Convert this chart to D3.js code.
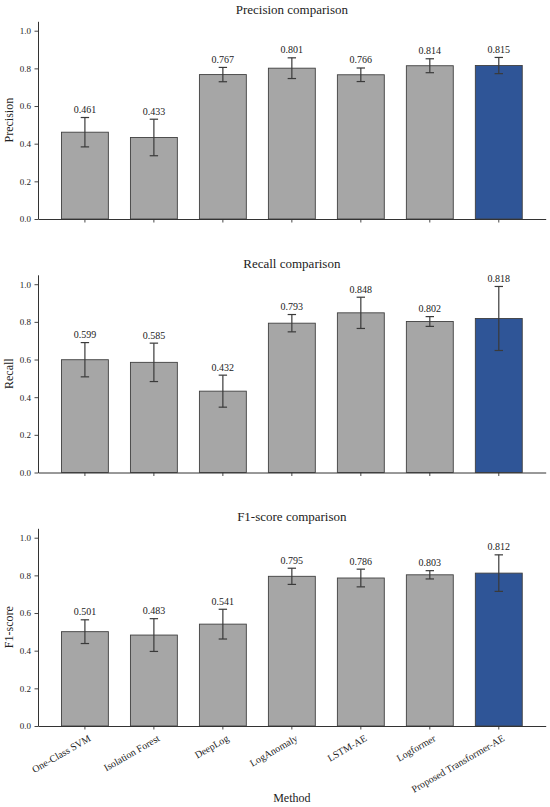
<!DOCTYPE html>
<html>
<head>
<meta charset="utf-8">
<script src="https://cdn.jsdelivr.net/npm/d3@7"></script>
<style>
  body { margin: 0; background: #fff; }
  text { font-family: "Liberation Serif", "Times New Roman", serif; fill: #222; }
</style>
</head>
<body>
<svg id="chart"></svg>
<script>
// values
const methods = ["One-Class SVM", "Isolation Forest", "DeepLog", "LogAnomaly", "LSTM-AE", "Logformer", "Proposed Transformer-AE"];

const precision    = [0.461, 0.433, 0.767, 0.801, 0.766, 0.814, 0.815];
const precisionErr = [0.078, 0.097, 0.038, 0.055, 0.036, 0.037, 0.043];
const recall       = [0.599, 0.585, 0.432, 0.793, 0.848, 0.802, 0.818];
const recallErr    = [0.091, 0.102, 0.085, 0.046, 0.083, 0.026, 0.170];
const f1           = [0.501, 0.483, 0.541, 0.795, 0.786, 0.803, 0.812];
const f1Err        = [0.063, 0.087, 0.079, 0.043, 0.047, 0.022, 0.097];

const yTicks = [0, 0.2, 0.4, 0.6, 0.8, 1.0];

const panels = [
    {title: "Precision comparison", label: "Precision", values: precision, errs: precisionErr},
    {title: "Recall comparison",    label: "Recall",    values: recall,    errs: recallErr},
    {title: "F1-score comparison",  label: "F1-score",  values: f1,        errs: f1Err}
];

const W = 550, H = 807;
const left = 38, right = 545.7;
const plotH = 197.7;       // pixel height of the 0..1.05 range
const firstZero = 219, panelStep = 253.5;

const svg = d3.select("#chart").attr("width", W).attr("height", H);

const x = d3.scaleBand()
    .domain(methods)
    .range([left, right])
    .paddingInner(0.32)
    .paddingOuter(0.34);

const barColor = d => d === methods[methods.length - 1] ? "#2f5597" : "#a6a6a6";

panels.forEach((p, i) => {
    const zeroY = firstZero + i * panelStep;
    const y = d3.scaleLinear().domain([0, 1.05]).range([zeroY, zeroY - plotH]);
    const g = svg.append("g");
    const rows = methods.map((m, j) => ({m, v: p.values[j], e: p.errs[j]}));

    // bars
    g.selectAll("rect.bar")
        .data(rows)
        .enter()
        .append("rect")
        .attr("class", "bar")
        .attr("x", d => x(d.m))
        .attr("y", d => y(d.v))
        .attr("width", x.bandwidth())
        .attr("height", d => y(0) - y(d.v))
        .attr("fill", d => barColor(d.m))
        .attr("stroke", "#404040")
        .attr("stroke-width", 0.9);

    // error bars
    const cx = d => x(d.m) + x.bandwidth() / 2;
    const cap = 4.2;
    const eb = g.selectAll("g.err").data(rows).enter().append("g").attr("class", "err")
        .attr("stroke", "#3a3a3a").attr("stroke-width", 1.2);
    eb.append("line")
        .attr("x1", cx).attr("x2", cx)
        .attr("y1", d => y(d.v - d.e)).attr("y2", d => y(d.v + d.e));
    eb.append("line")
        .attr("x1", d => cx(d) - cap).attr("x2", d => cx(d) + cap)
        .attr("y1", d => y(d.v + d.e)).attr("y2", d => y(d.v + d.e));
    eb.append("line")
        .attr("x1", d => cx(d) - cap).attr("x2", d => cx(d) + cap)
        .attr("y1", d => y(d.v - d.e)).attr("y2", d => y(d.v - d.e));

    // value labels
    g.selectAll("text.val")
        .data(rows)
        .enter()
        .append("text")
        .attr("class", "val")
        .attr("x", cx)
        .attr("y", d => y(d.v + d.e) - 4.5)
        .attr("text-anchor", "middle")
        .style("font-size", "10px")
        .text(d => d.v.toFixed(3));

    // axes
    const yAxis = g.append("g")
        .attr("transform", `translate(${left},0)`)
        .call(d3.axisLeft(y).tickValues(yTicks).tickFormat(d3.format(".1f")).tickSize(3.5).tickPadding(3.5).tickSizeOuter(0));
    const xAxis = g.append("g")
        .attr("transform", `translate(0,${zeroY})`)
        .call(d3.axisBottom(x).tickSize(3.5).tickSizeOuter(0).tickFormat(i === 2 ? null : ""));
    [yAxis, xAxis].forEach(a => {
        a.select(".domain").attr("stroke", "#333").attr("stroke-width", 1);
        a.selectAll(".tick line").attr("stroke", "#333").attr("stroke-width", 0.9);
        a.selectAll("text").style("font-family", "Liberation Serif, serif").attr("fill", "#222");
    });
    yAxis.selectAll("text").style("font-size", "9px");

    if (i === 2) {
        xAxis.selectAll(".tick text")
            .style("font-size", "10px")
            .attr("text-anchor", "end")
            .attr("x", 0).attr("y", 0).attr("dy", "0.72em")
            .attr("transform", "translate(3,8) rotate(-30)");
    }

    // title
    g.append("text")
        .attr("x", (left + right) / 2)
        .attr("y", zeroY - plotH - 7)
        .attr("text-anchor", "middle")
        .style("font-size", "13px")
        .text(p.title);

    // y label
    g.append("text")
        .attr("transform", `translate(13,${y(0.525)}) rotate(-90)`)
        .attr("text-anchor", "middle")
        .style("font-size", "12px")
        .text(p.label);
});

svg.append("text")
    .attr("x", (left + right) / 2)
    .attr("y", 802)
    .attr("text-anchor", "middle")
    .style("font-size", "12px")
    .text("Method");
</script>
</body>
</html>
